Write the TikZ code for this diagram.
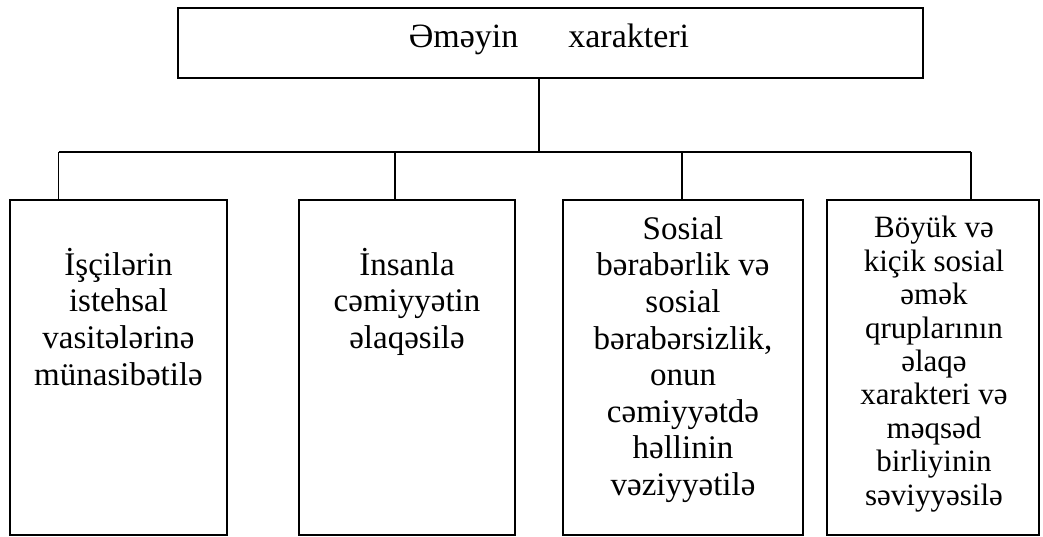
\documentclass[tikz,border=0pt]{standalone}
\usepackage{fontspec}
\setmainfont{Liberation Serif}
\begin{document}
\begin{tikzpicture}[x=1pt,y=-1pt,line width=1.8pt,
  box/.style={draw=black,rectangle,inner sep=0pt},
  leaf/.style={box,minimum height=335pt},
  lbl/.style={align=center,inner sep=0pt,anchor=base,font=\fontsize{33}{36.6}\selectfont},
  lblsmall/.style={align=center,inner sep=0pt,anchor=base,font=\fontsize{31}{33.4}\selectfont}]
\useasboundingbox (0,0) rectangle (1043,536);
\node[box,minimum width=745pt,minimum height=70pt] (top) at (550.5,43) {};
\node[inner sep=0pt,anchor=base,font=\fontsize{34}{37}\selectfont] (toptext) at (549,47) {Əməyin\hspace{50pt}xarakteri};
\node[leaf,minimum width=217pt] (b1) at (118.5,367.5) {};
\node[leaf,minimum width=216pt] (b2) at (407,367.5) {};
\node[leaf,minimum width=240pt] (b3) at (683,367.5) {};
\node[leaf,minimum width=212pt] (b4) at (933,367.5) {};
\node[lbl] (t1) at (118.5,385) {İşçilərin\\istehsal\\vasitələrinə\\münasibətilə};
\node[lbl] (t2) at (407,348.2) {İnsanla\\cəmiyyətin\\əlaqəsilə};
\node[lbl] (t3) at (683,495.5) {Sosial\\bərabərlik və\\sosial\\bərabərsizlik,\\onun\\cəmiyyətdə\\həllinin\\vəziyyətilə};
\node[lblsmall] (t4) at (934,505) {Böyük və\\kiçik sosial\\əmək\\qruplarının\\əlaqə\\xarakteri və\\məqsəd\\birliyinin\\səviyyəsilə};
\coordinate (hub) at (539,152);
\coordinate (j1) at (58.5,152);
\coordinate (j2) at (395,152);
\coordinate (j3) at (682,152);
\coordinate (j4) at (971,152);
\draw (top.south -| hub) -- (hub);
\draw (j1) -- (j4);
\draw (j1) -- (j1 |- b1.north);
\draw (j2) -- (j2 |- b2.north);
\draw (j3) -- (j3 |- b3.north);
\draw (j4) -- (j4 |- b4.north);
\end{tikzpicture}
\end{document}
